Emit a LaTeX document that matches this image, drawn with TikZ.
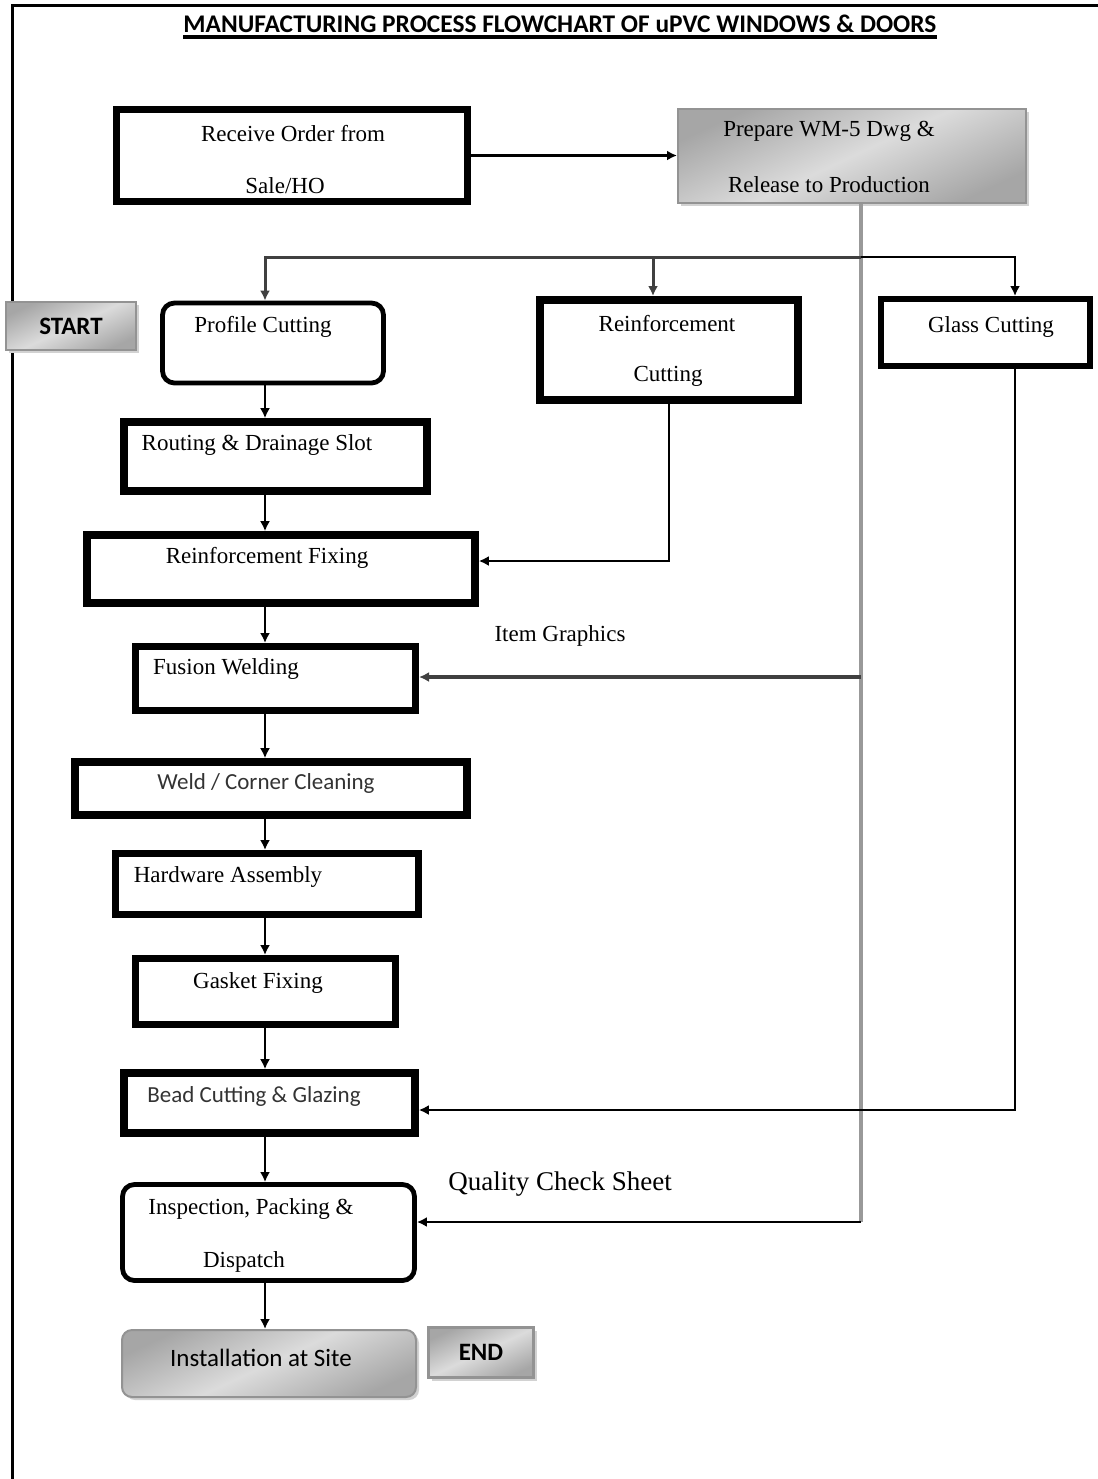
\documentclass[tikz,border=0pt]{standalone}
\usepackage{fontspec}
\setmainfont{Liberation Serif}
\newfontfamily\calfont{Carlito}
\usetikzlibrary{positioning,calc,arrows.meta,shadows}

\begin{document}
\begin{tikzpicture}[
    x=0.5pt, y=-0.5pt,
    box/.style={draw, line width=#1, inner sep=0pt},
    box/.default=3.8pt,
    roundbox/.style={box=2.4pt, rounded corners=6pt},
    greybox/.style={draw=gray!85, line width=1pt, inner sep=0pt, top color=gray!70, bottom color=gray!70, middle color=gray!28, shading angle=25,
        drop shadow={shadow xshift=1.5pt, shadow yshift=-1.5pt, fill=gray!35, opacity=1}},
    txt/.style={inner sep=0pt, font=\fontsize{11.5}{13}\selectfont},
    sanstxt/.style={inner sep=0pt, text=black!80, font=\calfont\fontsize{11.5}{13}\selectfont},
    arr/.style={-{Latex[length=5pt,width=5pt]}, line width=1.2pt}
]
\useasboundingbox (0,0) rectangle (1098,1479);
% page frame and title
\draw[line width=1.5pt] (1098,5) -- (12,5) -- (12,1479);
\node[inner sep=0pt, font=\calfont\bfseries\fontsize{12.7}{14}\selectfont] (title) at (560,24) {MANUFACTURING PROCESS FLOWCHART OF uPVC WINDOWS \& DOORS};
\draw[line width=2pt] ([yshift=-2pt]title.south west) -- ([yshift=-2pt]title.south east);

% top row
\node[box=3.5pt, minimum width=175.5pt, minimum height=46pt] (order) at (292,155.5) {};
\node[txt] (ordertxt) at (293,134) {Receive Order from};
\node[txt] (ordertxtb) at (285,186) {Sale/HO};
\node[greybox, minimum width=174pt, minimum height=47pt] (prepare) at (852,156) {};
\node[txt] (preparetxt) at (829,131) {Prepare WM-5 Dwg \&};
\node[txt] (preparetxtb) at (829,185) {Release to Production};

% cutting row
\node[greybox, minimum width=65pt, minimum height=24pt, font=\calfont\bfseries\fontsize{12.5}{14}\selectfont] (start) at (71,326) {START};
\node[roundbox, minimum width=110.5pt, minimum height=40pt] (profile) at (273,343) {};
\node[txt] (profiletxt) at (263,327) {Profile Cutting};
\node[box=4pt, minimum width=129pt, minimum height=50pt] (rcut) at (669,350) {};
\node[txt] (rcuttxt) at (667,324) {Reinforcement};
\node[txt] (rcuttxtb) at (668,376) {Cutting};
\node[box=3pt, minimum width=104.5pt, minimum height=33.5pt] (gcut) at (985.5,332.5) {};
\node[txt] (gcuttxt) at (991,327) {Glass Cutting};

% main line
\node[box, minimum width=151.5pt, minimum height=34.5pt] (routing) at (275.5,456.5) {};
\node[txt] (routingtxt) at (257,445) {Routing \& Drainage Slot};
\node[box, minimum width=194pt, minimum height=34pt] (rfix) at (281,569) {};
\node[txt] (rfixtxt) at (267,558) {Reinforcement Fixing};
\node[box=3.5pt, minimum width=140pt, minimum height=32pt] (fusion) at (275.5,678.5) {};
\node[txt] (fusiontxt) at (226,669) {Fusion Welding};
\node[box, minimum width=196pt, minimum height=26.5pt] (weld) at (271,788.5) {};
\node[sanstxt] (weldtxt) at (266,783) {Weld / Corner Cleaning};
\node[box=3.5pt, minimum width=151.5pt, minimum height=30.5pt] (hardware) at (267,884) {};
\node[txt] (hardwaretxt) at (228,877) {Hardware Assembly};
\node[box=3.5pt, minimum width=130pt, minimum height=33pt] (gasket) at (265.5,991.5) {};
\node[txt] (gaskettxt) at (258,983) {Gasket Fixing};
\node[box, minimum width=145.5pt, minimum height=30pt] (bead) at (269.5,1103) {};
\node[sanstxt] (beadtxt) at (254,1096) {Bead Cutting \& Glazing};
\node[roundbox, minimum width=146pt, minimum height=48pt] (inspect) at (268.5,1232.5) {};
\node[txt] (inspecttxt) at (251,1209) {Inspection, Packing \&};
\node[txt] (inspecttxtb) at (244,1262) {Dispatch};
\node[greybox, rounded corners=5pt, minimum width=147pt, minimum height=33.5pt] (install) at (269,1363.5) {};
\node[inner sep=0pt, font=\calfont\fontsize{12.5}{14}\selectfont] (installtxt) at (261,1358) {Installation at Site};
\node[greybox, line width=1.5pt, minimum width=52.5pt, minimum height=25pt, font=\calfont\bfseries\fontsize{12.5}{14}\selectfont] (finish) at (481,1352.5) {END};

% side notes
\node[txt] (itemgfx) at (560,636) {Item Graphics};
\node[txt, font=\fontsize{13.5}{15}\selectfont] (qcsheet) at (560,1184) {Quality Check Sheet};

% connectors
\coordinate (spine) at (265,0);
\coordinate (drop) at (861,257);
\coordinate (glassdrop) at (1015,257);
\coordinate (wmdrop) at (861,677);
\coordinate (qcdrop) at (861,1222);

\draw[arr] (order.east) -- (prepare.west |- order.east);
\draw[line width=2pt, gray!80] (prepare.south -| drop) -- (qcdrop);
\draw[arr, black!75, line width=1.5pt] (drop) -| (profile.north -| spine);
\draw[arr, black!75, line width=1.5pt] (drop) -| ([xshift=-8pt]rcut.north);
\draw[arr] (drop) -| (gcut.north -| glassdrop);
\draw[arr] (rcut.south) |- ([yshift=4pt]rfix.east);
\draw[arr, black!75, line width=2pt] (wmdrop) -- (fusion.east |- wmdrop);
\draw[arr, line width=1pt] (gcut.south -| glassdrop) |- ([yshift=-3.5pt]bead.east);
\draw[arr] (qcdrop) -- (inspect.east |- qcdrop);
\foreach \a/\b in {profile/routing, routing/rfix, rfix/fusion, fusion/weld, weld/hardware, hardware/gasket, gasket/bead, bead/inspect, inspect/install}
    \draw[arr] (\a.south -| spine) -- (\b.north -| spine);
\end{tikzpicture}
\end{document}
